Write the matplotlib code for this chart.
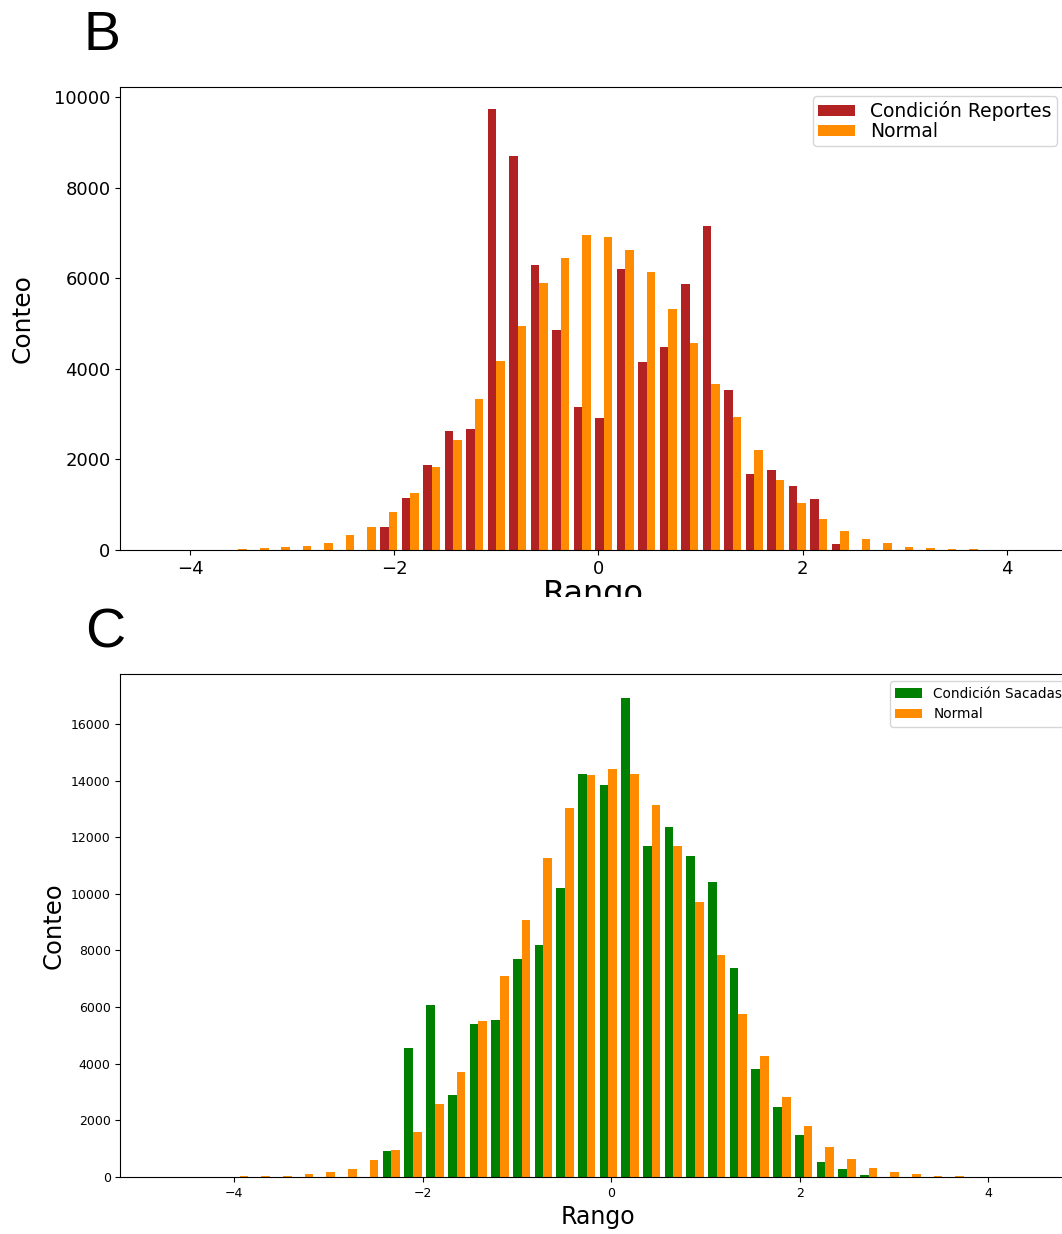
import numpy as np
import matplotlib
matplotlib.use('Agg')
import matplotlib.pyplot as plt
from matplotlib.transforms import Bbox, TransformedBbox

# ---- panel B: Reportes vs Normal (40 bins) ----
b_start, b_width, n_bins = -4.262, 0.2105, 40
reportes = [0, 0, 0, 0, 0, 0, 0, 0, 0, 0,
            515, 1156, 1885, 2636, 2666, 9743, 8704, 6289, 4853, 3167,
            2923, 6200, 4161, 4492, 5869, 7158, 3542, 1686, 1775, 1421,
            1134, 140, 0, 0, 0, 0, 0, 0, 0, 0]
normal_b = [1, 3, 8, 30, 44, 66, 96, 162, 339, 515,
            847, 1267, 1841, 2437, 3343, 4183, 4941, 5891, 6444, 6952,
            6907, 6620, 6149, 5317, 4580, 3675, 2938, 2217, 1554, 1038,
            685, 420, 243, 155, 66, 44, 22, 22, 6, 2]

# ---- panel C: Sacadas vs Normal (40 bins) ----
c_start, c_width = -4.745, 0.23
sacadas = [0, 0, 0, 0, 0, 0, 0, 0, 0, 0,
           920, 4573, 6063, 2902, 5389, 5545, 7682, 8200, 10209, 14224,
           13849, 16906, 11698, 12359, 11323, 10403, 7384, 3822, 2487, 1477,
           518, 285, 78, 0, 0, 0, 0, 0, 0, 0]
normal_c = [1, 4, 10, 18, 39, 39, 104, 181, 298, 596,
            959, 1593, 2565, 3705, 5493, 7099, 9069, 11284, 13033, 14186,
            14406, 14251, 13136, 11685, 9729, 7838, 5752, 4262, 2811, 1814,
            1062, 622, 324, 181, 104, 39, 39, 12, 5, 1]

W, H = 1062, 1234
fig = plt.figure(figsize=(W / 100, H / 100), dpi=100)

# Panel B
edges_b = np.linspace(b_start, b_start + n_bins * b_width, n_bins + 1)
centers_b = (edges_b[:-1] + edges_b[1:]) / 2
axb = fig.add_axes([120.2 / W, (H - 550) / H, 945.7 / W, 463 / H])
axb.hist([centers_b, centers_b], bins=edges_b, weights=[reportes, normal_b],
         color=['firebrick', 'darkorange'],
         label=['Condición Reportes', 'Normal'])
axb.set_xlim(b_start - 2 * b_width, b_start + 42 * b_width)
axb.set_ylim(0, max(reportes) * 1.05)
axb.tick_params(labelsize=13)
axb.set_ylabel('Conteo', fontsize=18, labelpad=14)
axb.set_xlabel('Rango', fontsize=23, labelpad=1)
axb.legend(loc='upper right', fontsize=13.5, labelspacing=0.05, borderpad=0.25,
           handleheight=0.5, handletextpad=0.8)
# the lower panel covers the bottom of this label
clip = TransformedBbox(Bbox([[0, (H - 597) / H], [1, 1]]), fig.transFigure)
axb.xaxis.label.set_clip_box(clip)
axb.xaxis.label.set_clip_on(True)

# Panel C
edges_c = np.linspace(c_start, c_start + n_bins * c_width, n_bins + 1)
centers_c = (edges_c[:-1] + edges_c[1:]) / 2
axc = fig.add_axes([120.4 / W, (H - 1177) / H, 954.2 / W, 502.6 / H])
axc.hist([centers_c, centers_c], bins=edges_c, weights=[sacadas, normal_c],
         color=['green', 'darkorange'],
         label=['Condición Sacadas', 'Normal'])
axc.set_xlim(c_start - 2 * c_width, c_start + 42 * c_width)
axc.set_ylim(0, max(sacadas) * 1.05)
axc.tick_params(labelsize=9)
axc.set_ylabel('Conteo', fontsize=17.5)
axc.set_xlabel('Rango', fontsize=17)
axc.legend(loc='upper right', fontsize=9.8)

# panel letters
fig.text(83 / W, 1 - 50 / H, 'B', fontsize=40, family='Liberation Sans', va='baseline')
fig.text(85 / W, 1 - 648 / H, 'C', fontsize=40, family='Liberation Sans', va='baseline')

fig.savefig('out.png', dpi=100)
